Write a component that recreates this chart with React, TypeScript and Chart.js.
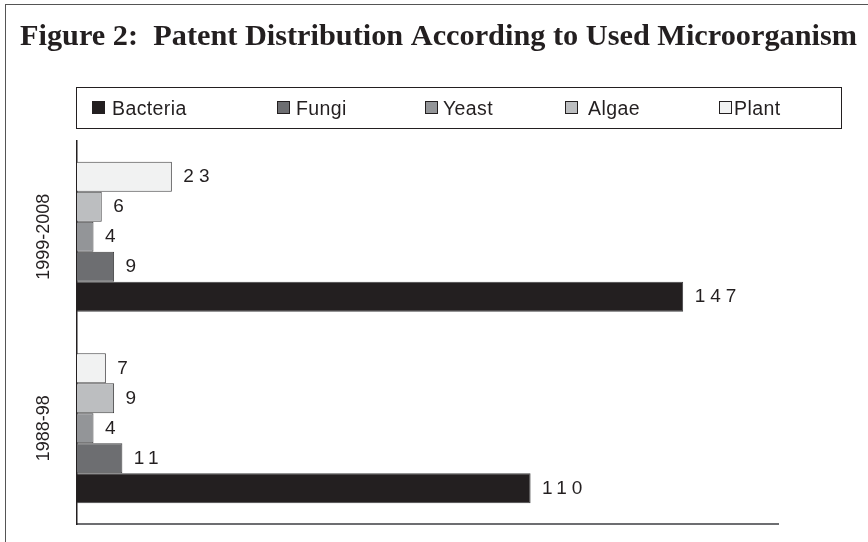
import React, { useEffect, useRef } from 'react';
import { Chart, registerables } from 'chart.js';

Chart.register(...registerables);

// ---- data ----
const TITLE = 'Figure 2:  Patent Distribution According to Used Microorganism';
const categories = ['1999-2008', '1988-98'];
const seriesNames = ['Bacteria', 'Fungi', 'Yeast', 'Algae', 'Plant'];
const bacteria = [147, 110];
const fungi = [9, 11];
const yeast = [4, 4];
const algae = [6, 9];
const plant = [23, 7];
const seriesValues = [bacteria, fungi, yeast, algae, plant];
const X_MAX = 170;

// ---- styles / layout ----
const FILLS = ['#231f20', '#6d6e71', '#939598', '#bcbec0', '#f1f2f2'];
const BAR_BORDER = '#414042';
const INK = '#231f20';
const SANS = 'Arial, "Liberation Sans", sans-serif';
const SERIF = '"Liberation Serif", "Times New Roman", serif';
// bars drawn top-to-bottom within a group: Plant, Algae, Yeast, Fungi, Bacteria
const DRAW_ORDER = [4, 3, 2, 1, 0];
const LEGEND_SWATCH_X = [15, 200, 348, 488, 642];
const LEGEND_TEXT_GAP = [20, 19, 18, 23, 15];

export default function App() {
  const ref = useRef<HTMLCanvasElement>(null);

  useEffect(() => {
    if (!ref.current) return;
    const valuePlugin = {
      id: 'barValues',
      afterDatasetsDraw(chart: any) {
        const ctx = chart.ctx as CanvasRenderingContext2D;
        ctx.save();
        ctx.font = `19px ${SANS}`;
        ctx.fillStyle = INK;
        ctx.textAlign = 'left';
        ctx.textBaseline = 'middle';
        (ctx as any).letterSpacing = '5px';
        chart.data.datasets.forEach((ds: any, i: number) => {
          const meta = chart.getDatasetMeta(i);
          meta.data.forEach((el: any, j: number) => {
            ctx.fillText(String(ds.data[j]), el.x + 11.5, el.y + 0.5);
          });
        });
        ctx.restore();
      },
    };

    const chart = new Chart(ref.current, {
      type: 'bar',
      data: {
        labels: categories,
        datasets: DRAW_ORDER.map((k) => ({
          label: seriesNames[k],
          data: seriesValues[k],
          backgroundColor: FILLS[k],
          borderColor: BAR_BORDER,
          borderWidth: 1,
          categoryPercentage: 0.783,
          barPercentage: 1,
        })),
      },
      options: {
        indexAxis: 'y',
        responsive: false,
        animation: false,
        devicePixelRatio: 1,
        layout: { padding: { left: 20, right: 0, top: 0, bottom: 18 } },
        plugins: {
          legend: { display: false },
          tooltip: { enabled: false },
          title: {
            display: true,
            text: TITLE,
            align: 'start',
            color: INK,
            font: { family: SERIF, size: 30.3, weight: 'bold' },
            padding: { top: 19, bottom: 85.6 },
          },
        },
        scales: {
          x: {
            type: 'linear',
            min: 0,
            max: X_MAX,
            ticks: { display: false },
            grid: { display: false, drawTicks: false },
            border: { display: true, color: '#6d6e71', width: 2 },
          },
          y: {
            type: 'category',
            ticks: {
              color: INK,
              font: { family: SANS, size: 18 },
              minRotation: 90,
              maxRotation: 90,
              crossAlign: 'center',
              padding: -10,
            },
            grid: { display: false, drawTicks: false },
            border: { display: true, color: INK, width: 1.5 },
            afterFit: (scale: any) => {
              scale.width = 57;
            },
          },
          yRight: {
            type: 'linear',
            axis: 'y',
            position: 'right',
            ticks: { display: false },
            grid: { display: false, drawTicks: false },
            border: { display: false },
            afterFit: (scale: any) => {
              scale.width = 90;
            },
          },
        },
      },
      plugins: [valuePlugin],
    } as any);

    return () => chart.destroy();
  }, []);

  const legendOrder = [0, 1, 2, 3, 4];

  return (
    <div
      style={{
        position: 'fixed',
        left: 0,
        top: 0,
        width: 868,
        height: 542,
        background: '#fff',
        overflow: 'hidden',
      }}
    >
      <div
        style={{
          position: 'absolute',
          left: 5,
          top: 4,
          right: -4,
          bottom: -4,
          borderLeft: '1.5px solid #555',
          borderTop: '1.5px solid #555',
        }}
      />
      <canvas
        ref={ref}
        width={868}
        height={542}
        style={{ position: 'absolute', left: 0, top: 0, width: 868, height: 542 }}
      />
      <div
        style={{
          position: 'absolute',
          left: 76,
          top: 87,
          width: 766,
          height: 42,
          boxSizing: 'border-box',
          border: `1px solid ${INK}`,
          fontFamily: SANS,
          fontSize: 19.5,
          letterSpacing: 0.4,
          color: INK,
        }}
      >
        {legendOrder.map((k, idx) => (
          <React.Fragment key={seriesNames[k]}>
            <div
              style={{
                position: 'absolute',
                left: LEGEND_SWATCH_X[idx],
                top: 13,
                width: 13,
                height: 13,
                boxSizing: 'border-box',
                border: `1px solid ${INK}`,
                background: FILLS[k],
              }}
            />
            <span
              style={{
                position: 'absolute',
                left: LEGEND_SWATCH_X[idx] + LEGEND_TEXT_GAP[idx],
                top: -0.5,
                lineHeight: '40px',
                whiteSpace: 'nowrap',
              }}
            >
              {seriesNames[k]}
            </span>
          </React.Fragment>
        ))}
      </div>
    </div>
  );
}
